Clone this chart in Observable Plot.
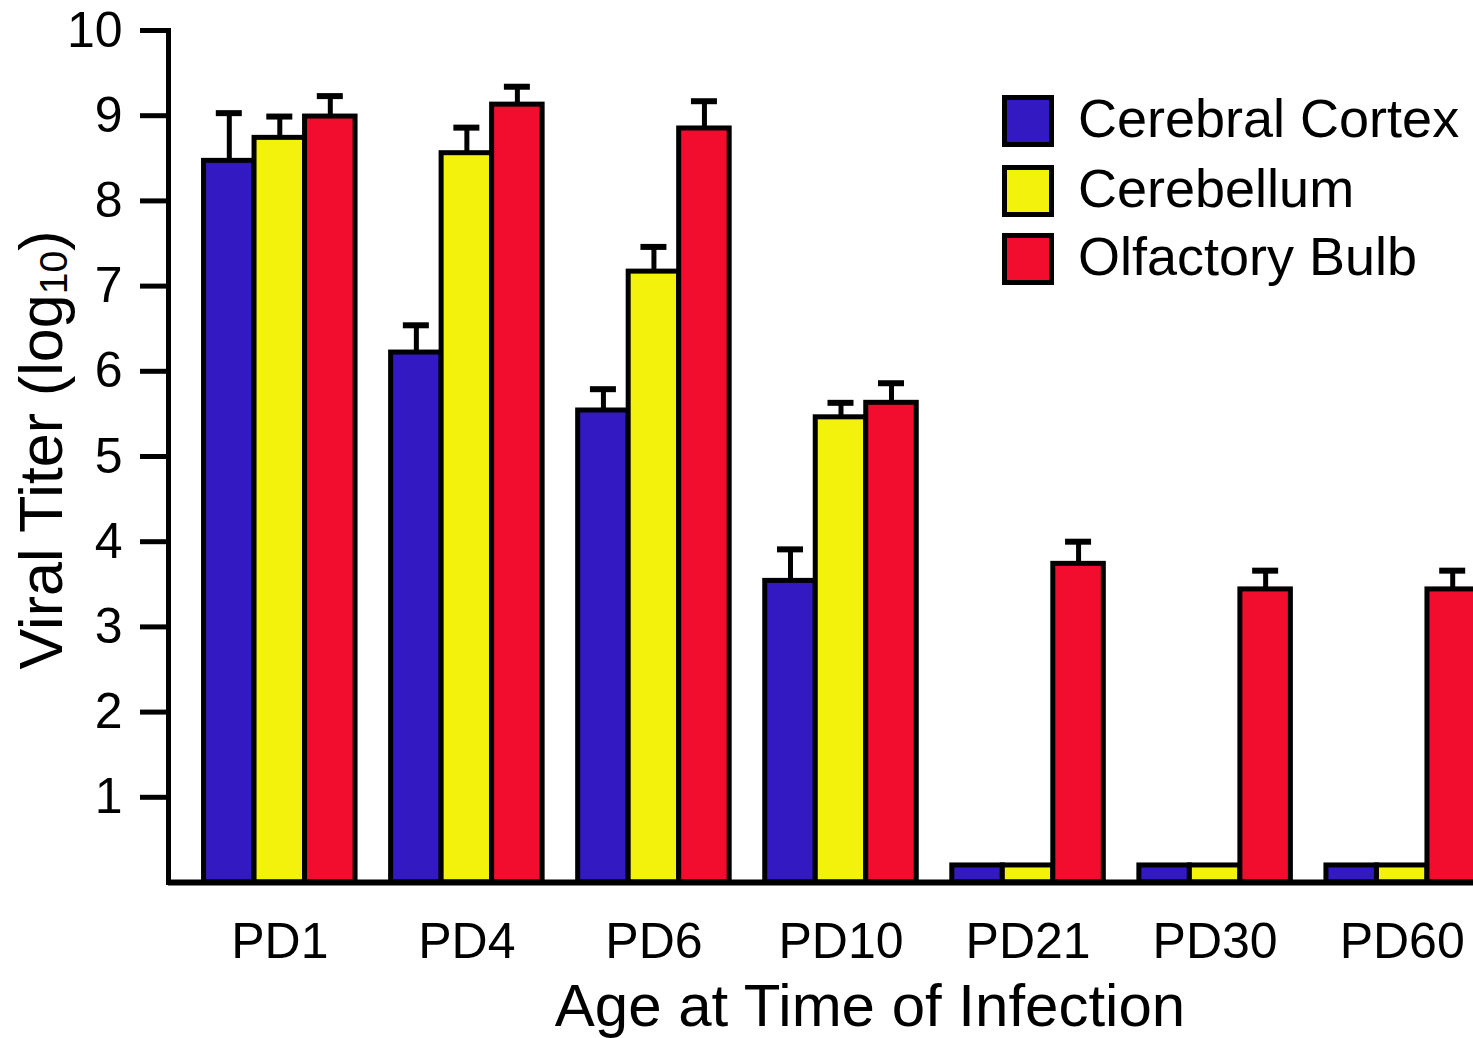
<!DOCTYPE html>
<html>
<head>
<meta charset="utf-8">
<script src="https://cdn.jsdelivr.net/npm/d3@7"></script>
<script src="https://cdn.jsdelivr.net/npm/@observablehq/plot@0.6"></script>
<style>
  html, body { margin: 0; padding: 0; background: #fff; }
  #wrap { position: relative; width: 1473px; height: 1038px; overflow: hidden;
          font-family: "Liberation Sans", Arial, sans-serif; color: #000; }
  #chart svg { display: block; }
  .title { position: absolute; white-space: nowrap; line-height: 1; }
  #xtitle { font-size: 60px; left: 870px; top: 976px; transform: translateX(-50%); }
  #ytitle { font-size: 61px; left: 41px; top: 450px; transform: translate(-50%, -50%) rotate(-90deg); }
  #ytitle .sub { font-size: 0.64em; vertical-align: -0.14em; line-height: 0; }
  .leg { position: absolute; left: 1002px; }
  .sw { position: absolute; left: 0; width: 52px; height: 52px; box-sizing: border-box; border: 5px solid #000; }
  .lt { position: absolute; left: 76px; font-size: 54px; line-height: 1; white-space: nowrap; }
</style>
</head>
<body>
<div id="wrap">
  <div id="chart"></div>
  <div id="xtitle" class="title">Age at Time of Infection</div>
  <div id="ytitle" class="title">Viral Titer (log<span class="sub">10</span>)</div>
  <div id="legend"></div>
</div>
<script>
// ---- data ----
const groups = ["PD1", "PD4", "PD6", "PD10", "PD21", "PD30", "PD60"];
const tissues = ["Cerebral Cortex", "Cerebellum", "Olfactory Bulb"];
const colors = ["#3219c1", "#f2f20c", "#f20c2e"];
const cortex      = [8.47, 6.22, 5.54, 3.54, 0.2, 0.2, 0.2];
const cortexErr   = [0.56, 0.32, 0.25, 0.37, null, null, null];
const cerebellum    = [8.74, 8.56, 7.17, 5.46, 0.2, 0.2, 0.2];
const cerebellumErr = [0.25, 0.30, 0.29, 0.17, null, null, null];
const olfactory    = [8.99, 9.13, 8.85, 5.63, 3.74, 3.44, 3.44];
const olfactoryErr = [0.24, 0.21, 0.32, 0.23, 0.26, 0.22, 0.22];
const yTicks = [1, 2, 3, 4, 5, 6, 7, 8, 9, 10];

const seriesValues = [cortex, cerebellum, olfactory];
const seriesErrors = [cortexErr, cerebellumErr, olfactoryErr];

const data = [];
tissues.forEach((t, ti) => {
  groups.forEach((g, gi) => {
    const v = seriesValues[ti][gi];
    const e = seriesErrors[ti][gi];
    data.push({group: g, tissue: t, ti, value: v, hi: e == null ? null : v + e});
  });
});

// ---- layout ----
const W = 1473, H = 1038;
const xRange = [168, 1513];
const pad = 0.19;
const step = (xRange[1] - xRange[0]) / (groups.length - pad + 2 * pad);
const bw = step * (1 - pad);
const w = bw / 3;
const capW = 26;

const marks = [];
tissues.forEach((t, i) => {
  const withErr = data.filter(d => d.tissue === t && d.hi != null);
  marks.push(Plot.ruleX(withErr, {x: "group", y1: "value", y2: "hi", dx: (i - 1) * w, stroke: "#000", strokeWidth: 5}));
});
tissues.forEach((t, i) => {
  const sub = data.filter(d => d.tissue === t);
  marks.push(Plot.barY(sub, {x: "group", y: "value", fill: colors[i], stroke: "#000", strokeWidth: 5,
    insetLeft: i * w, insetRight: (2 - i) * w}));
});
tissues.forEach((t, i) => {
  const withErr = data.filter(d => d.tissue === t && d.hi != null);
  marks.push(Plot.tickY(withErr, {x: "group", y: "hi", stroke: "#000", strokeWidth: 6,
    insetLeft: i * w + (w - capW) / 2, insetRight: (2 - i) * w + (w - capW) / 2}));
});
marks.push(Plot.ruleY([0], {stroke: "#000", strokeWidth: 6}));
marks.push(Plot.frame({anchor: "left", stroke: "#000", strokeWidth: 5}));
marks.push(Plot.axisY({ticks: yTicks, tickSize: 28, tickPadding: 18, fontSize: 50, strokeWidth: 5, label: null, anchor: "left"}));
marks.push(Plot.axisX({tickSize: 0, tickPadding: 40, fontSize: 50, label: null, anchor: "bottom"}));

const chart = Plot.plot({
  width: W, height: H,
  marginTop: 30, marginBottom: 156, marginLeft: 168, marginRight: 0,
  x: {domain: groups, range: xRange, padding: pad, round: false, axis: null},
  y: {domain: [0, 10], axis: null},
  style: {fontFamily: "'Liberation Sans', Arial, sans-serif", color: "#000", background: "#fff", overflow: "hidden"},
  marks
});
document.getElementById("chart").appendChild(chart);

// ---- legend ----
const legend = document.getElementById("legend");
const legTops = [95, 165, 233];
tissues.forEach((t, i) => {
  const row = document.createElement("div");
  row.className = "leg";
  row.style.top = legTops[i] + "px";
  const sw = document.createElement("div");
  sw.className = "sw";
  sw.style.background = colors[i];
  const lt = document.createElement("div");
  lt.className = "lt";
  lt.style.top = "-4px";
  lt.textContent = t;
  row.appendChild(sw);
  row.appendChild(lt);
  legend.appendChild(row);
});
</script>
</body>
</html>
